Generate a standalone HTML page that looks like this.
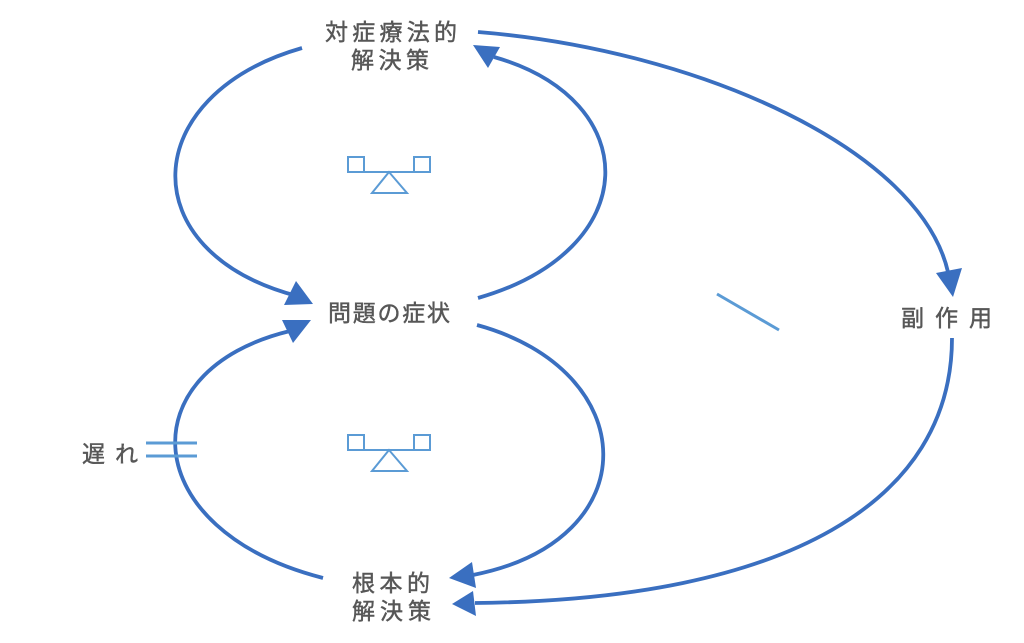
<!DOCTYPE html>
<html>
<head>
<meta charset="utf-8">
<style>
html,body{margin:0;padding:0;background:#fff;}
svg{display:block;}
text{font-family:"Liberation Sans","Noto Sans CJK JP",sans-serif;fill:#575757;stroke:#575757;stroke-width:0.45px;font-size:23px;}
</style>
</head>
<body>
<svg width="1024" height="643" viewBox="0 0 1024 643" xmlns="http://www.w3.org/2000/svg">
  <g fill="none" stroke="#3a6fc0" stroke-width="3.8" stroke-linecap="butt">
    <!-- upper loop left -->
    <path d="M302,48 C138,95 130,252 297,296"/>
    <!-- upper loop right -->
    <path d="M478,298 C645,250 645,100 494,57"/>
    <!-- lower loop left -->
    <path d="M323,578 C136,530 128,370 290,331"/>
    <!-- lower loop right -->
    <path d="M477,325 C642,370 650,540 473,575"/>
    <!-- big top arc -->
    <path d="M478,32 C700,50 920,150 948,272"/>
    <!-- big bottom arc -->
    <path d="M952,338 C952,500 790,600 475,603"/>
  </g>
  <!-- arrowheads -->
  <g fill="#3a6fc0">
    <polygon points="313,304 296,281 284,305"/>
    <polygon points="473,45 500,47 488,68"/>
    <polygon points="311,320 282,320 293,343"/>
    <polygon points="449,578 472,562 476,588"/>
    <polygon points="953,297 936,273 962,268"/>
    <polygon points="452,604 473,591 476,616"/>
  </g>
  <!-- negative sign -->
  <line x1="717" y1="294" x2="779" y2="330" stroke="#5b9bd5" stroke-width="3"/>
  <!-- delay marks -->
  <g stroke="#5b9bd5" stroke-width="3">
    <line x1="146" y1="443" x2="197" y2="443"/>
    <line x1="146" y1="456" x2="197" y2="456"/>
  </g>
  <!-- balance icons -->
  <g fill="none" stroke="#5b9bd5" stroke-width="2">
    <rect x="348" y="157" width="16" height="15"/>
    <rect x="414" y="157" width="16" height="15"/>
    <line x1="364" y1="172" x2="414" y2="172"/>
    <polygon points="389,172 372,193 407,193"/>
    <rect x="348" y="435" width="16" height="15"/>
    <rect x="414" y="435" width="16" height="15"/>
    <line x1="364" y1="450" x2="414" y2="450"/>
    <polygon points="389,450 372,471 407,471"/>
  </g>
  <!-- labels -->
  <text x="325" y="40" textLength="132" lengthAdjust="spacing">対症療法的</text>
  <text x="351" y="68" textLength="78" lengthAdjust="spacing">解決策</text>
  <text x="328" y="321" textLength="122" lengthAdjust="spacing">問題の症状</text>
  <text x="352" y="591" textLength="78" lengthAdjust="spacing">根本的</text>
  <text x="352" y="619" textLength="79" lengthAdjust="spacing">解決策</text>
  <text x="82" y="462" textLength="56" lengthAdjust="spacing">遅れ</text>
  <text x="901" y="326" textLength="91" lengthAdjust="spacing">副作用</text>
</svg>
</body>
</html>
